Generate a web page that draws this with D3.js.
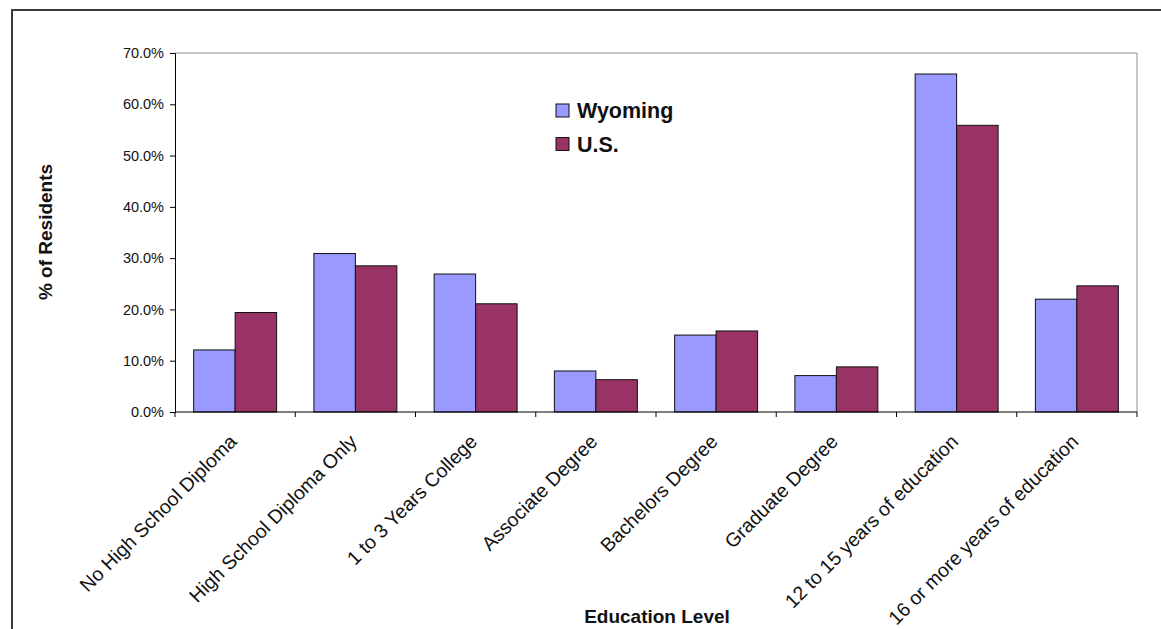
<!DOCTYPE html>
<html>
<head>
<meta charset="utf-8">
<script src="https://cdn.jsdelivr.net/npm/d3@7"></script>
<style>
  body { margin: 0; background: #fff; }
  svg { display: block; font-family: "Liberation Sans", Arial, sans-serif; }
</style>
</head>
<body>
<div id="chart"></div>
<script>
// data
const categories = [
    "No High School Diploma", "High School Diploma Only", "1 to 3 Years College",
    "Associate Degree", "Bachelors Degree", "Graduate Degree",
    "12 to 15 years of education", "16 or more years of education"
];
const seriesNames = ["Wyoming", "U.S."];
const wyoming = [12.1, 30.9, 26.9, 8.0, 15.0, 7.1, 65.9, 22.0];
const us = [19.4, 28.5, 21.1, 6.3, 15.8, 8.8, 55.9, 24.6];
const yTicks = [0, 10, 20, 30, 40, 50, 60, 70];
const colors = ["#9999ff", "#993366"];

const width = 1161, height = 629;
const plot = { left: 175, right: 1137, top: 53, bottom: 412 };

const svg = d3.select("#chart").append("svg")
    .attr("width", width)
    .attr("height", height);

// outer chart border (runs off the right and bottom edge)
svg.append("rect")
    .attr("x", 12).attr("y", 10)
    .attr("width", 1180).attr("height", 640)
    .attr("fill", "none")
    .attr("stroke", "#3a3a3a")
    .attr("stroke-width", 2);

const x0 = d3.scaleBand()
    .domain(categories)
    .range([plot.left, plot.right])
    .paddingInner(0.31)
    .paddingOuter(0.155);

const x1 = d3.scaleBand()
    .domain(seriesNames)
    .range([0, x0.bandwidth()]);

const y = d3.scaleLinear()
    .domain([0, 70])
    .range([plot.bottom, plot.top]);

// plot area border (top and right, gray)
svg.append("path")
    .attr("d", `M${plot.left},${plot.top}H${plot.right}V${plot.bottom}`)
    .attr("fill", "none")
    .attr("stroke", "#8c8c8c")
    .attr("stroke-width", 1);

// bars
const rows = categories.map((c, i) => ({ cat: c, values: [wyoming[i], us[i]] }));
const groups = svg.append("g").selectAll("g")
    .data(rows)
    .join("g")
    .attr("transform", d => `translate(${x0(d.cat)},0)`);

groups.selectAll("rect")
    .data(d => d.values.map((v, k) => ({ name: seriesNames[k], v: v, k: k })))
    .join("rect")
    .attr("x", d => x1(d.name))
    .attr("y", d => y(d.v))
    .attr("width", x1.bandwidth())
    .attr("height", d => y(0) - y(d.v))
    .attr("fill", d => colors[d.k])
    .attr("stroke", "#111")
    .attr("stroke-width", 1);

// y axis
const yAxis = svg.append("g")
    .attr("transform", `translate(${plot.left},0)`)
    .call(d3.axisLeft(y).tickValues(yTicks).tickSize(5).tickPadding(6)
        .tickFormat(d => d.toFixed(1) + "%"));
yAxis.select(".domain").attr("stroke", "#000");
yAxis.selectAll("text")
    .attr("font-size", 14.5)
    .attr("fill", "#111")
    .attr("font-family", "Liberation Sans, Arial, sans-serif");

// x axis: line + ticks at category boundaries
const step = x0.step();
const boundaries = d3.range(categories.length + 1).map(i => plot.left + i * step);
svg.append("line")
    .attr("x1", plot.left).attr("x2", plot.right)
    .attr("y1", plot.bottom).attr("y2", plot.bottom)
    .attr("stroke", "#000");
svg.append("g").selectAll("line")
    .data(boundaries)
    .join("line")
    .attr("x1", d => d).attr("x2", d => d)
    .attr("y1", plot.bottom).attr("y2", plot.bottom + 5)
    .attr("stroke", "#000");

// rotated category labels
svg.append("g").selectAll("text")
    .data(categories)
    .join("text")
    .attr("transform", d => `translate(${x0(d) + x0.bandwidth() / 2 - 2},${plot.bottom + 26}) rotate(-45)`)
    .attr("text-anchor", "end")
    .attr("dy", "0.35em")
    .attr("font-size", 19.5)
    .attr("fill", "#111")
    .text(d => d);

// axis titles
svg.append("text")
    .attr("x", 657).attr("y", 623)
    .attr("text-anchor", "middle")
    .attr("font-size", 19)
    .attr("font-weight", "bold")
    .attr("fill", "#111")
    .text("Education Level");

svg.append("text")
    .attr("transform", "translate(52,232) rotate(-90)")
    .attr("text-anchor", "middle")
    .attr("font-size", 19)
    .attr("font-weight", "bold")
    .attr("fill", "#111")
    .text("% of Residents");

// legend
const legend = svg.append("g")
    .attr("transform", "translate(556,104)");
const items = legend.selectAll("g")
    .data(seriesNames)
    .join("g")
    .attr("transform", (d, i) => `translate(0,${i * 33.5})`);
items.append("rect")
    .attr("width", 13).attr("height", 13)
    .attr("fill", (d, i) => colors[i])
    .attr("stroke", "#111");
items.append("text")
    .attr("x", 21).attr("y", 14)
    .attr("font-size", 21.5)
    .attr("font-weight", "bold")
    .attr("fill", "#111")
    .text(d => d);
</script>
</body>
</html>
